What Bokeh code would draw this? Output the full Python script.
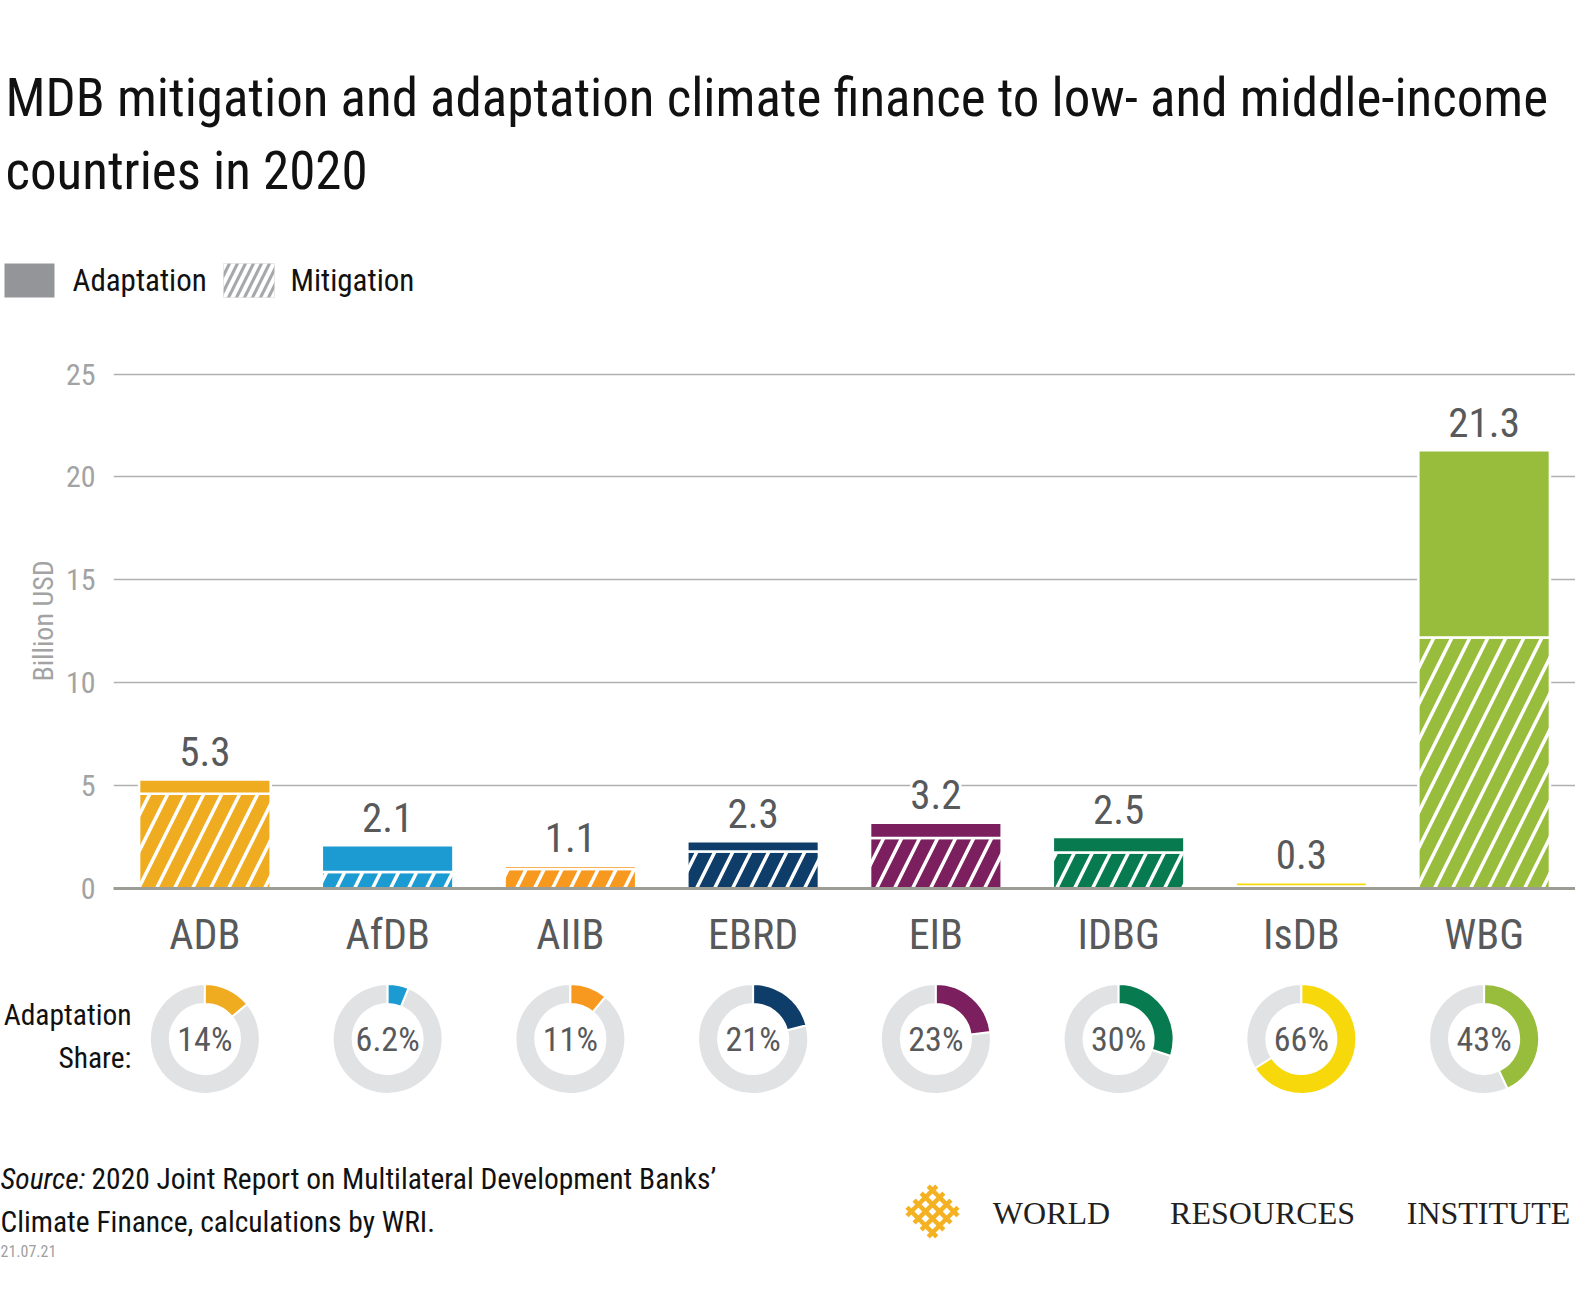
import math
from bokeh.plotting import figure
from bokeh.models import ColumnDataSource, Range1d, FactorRange, FixedTicker
from bokeh.transform import dodge
from bokeh.embed import file_html
from bokeh.resources import INLINE
from bokeh.core.properties import value

# ---------------- data ----------------
banks = ["ADB", "AfDB", "AIIB", "EBRD", "EIB", "IDBG", "IsDB", "WBG"]
mitigation = [4.6, 0.8, 0.95, 1.8, 2.45, 1.75, 0.1, 12.2]
adaptation = [0.7, 1.3, 0.15, 0.5, 0.75, 0.75, 0.2, 9.1]
total_labels = ["5.3", "2.1", "1.1", "2.3", "3.2", "2.5", "0.3", "21.3"]
share_values = [14, 6.2, 11, 21, 23, 30, 66, 43]
share_labels = ["14%", "6.2%", "11%", "21%", "23%", "30%", "66%", "43%"]
bank_colors = ["#f0ac21", "#1b9bd1", "#f7991f", "#0d3d68", "#7b1f5f", "#077b4f", "#f7d90b", "#98bd3d"]
y_ticks = [0, 5, 10, 15, 20, 25]

FONT = "Roboto Condensed, Liberation Sans Narrow, Arial Narrow, Roboto"
GREY_TXT = "#58595b"
W = 1575
LEFT = 113

# ---------------- header ----------------
H1 = 353
hdr = figure(width=W, height=H1, x_range=Range1d(0, W), y_range=Range1d(H1, 0),
             output_backend="svg", toolbar_location=None, x_axis_type=None, y_axis_type=None,
             min_border=0)
hdr.grid.grid_line_color = None
hdr.outline_line_color = None
hdr.text(x=[5, 5], y=[97, 170],
         text=["MDB mitigation and adaptation climate finance to low- and middle-income",
               "countries in 2020"],
         text_font=value(FONT), text_font_size="53px", text_color="#111111",
         text_baseline="middle")
hdr.quad(left=[4], right=[54], top=[263], bottom=[297], fill_color="#939598", line_color=None)
hdr.quad(left=[223], right=[274], top=[263], bottom=[297], fill_color="#a6a8ab", line_color=None,
         hatch_pattern="/", hatch_color="white", hatch_weight=4, hatch_scale=16)
hdr.text(x=[72, 290], y=[280, 280], text=["Adaptation", "Mitigation"],
         text_font=value(FONT), text_font_size="31px", text_color="#111111",
         text_baseline="middle")

# ---------------- main bar chart ----------------
totals = [m + a for m, a in zip(mitigation, adaptation)]
src = ColumnDataSource(dict(bank=banks, mitigation=mitigation, adaptation=adaptation,
                            total=totals, label=total_labels, color=bank_colors))

p = figure(width=W, height=625, x_range=FactorRange(*banks), y_range=Range1d(0, 26),
           output_backend="svg", toolbar_location=None,
           min_border_left=LEFT, min_border_right=0, min_border_top=0, min_border_bottom=90)
p.outline_line_color = None
# labels first (white background hides gridlines), bars drawn over them
p.text(x="bank", y=dodge("total", 1.36), text="label", source=src, text_align="center",
       text_baseline="middle", text_font=value(FONT),
       text_font_size="41px", text_color=GREY_TXT, background_fill_color="white")
p.vbar_stack(["mitigation", "adaptation"], x="bank", width=0.72, source=src,
             fill_color="color", line_color="white", line_width=2.5,
             hatch_pattern=["/", " "], hatch_color="white", hatch_weight=3.5, hatch_scale=36)

p.yaxis.ticker = FixedTicker(ticks=y_ticks)
p.ygrid.ticker = FixedTicker(ticks=y_ticks)
p.ygrid.grid_line_color = "#b0b0b0"
p.ygrid.grid_line_width = 1.3
p.xgrid.grid_line_color = None
p.yaxis.axis_line_color = None
p.yaxis.major_tick_line_color = None
p.yaxis.major_tick_out = 0
p.yaxis.minor_tick_line_color = None
p.yaxis.major_label_text_font = FONT
p.yaxis.major_label_text_font_size = "30px"
p.yaxis.major_label_text_color = "#a3a3a3"
p.yaxis.major_label_standoff = 18
p.yaxis.axis_label = "Billion USD"
p.yaxis.axis_label_text_font = FONT
p.yaxis.axis_label_text_font_size = "28px"
p.yaxis.axis_label_text_font_style = "normal"
p.yaxis.axis_label_text_color = "#a3a3a3"
p.yaxis.axis_label_standoff = 3

p.xaxis.axis_line_color = "#9d9d96"
p.xaxis.axis_line_width = 3
p.xaxis.major_tick_line_color = None
p.xaxis.major_tick_out = 0
p.xaxis.major_label_text_font = FONT
p.xaxis.major_label_text_font_size = "42px"
p.xaxis.major_label_text_color = GREY_TXT
p.xaxis.major_label_standoff = 21

# ---------------- donuts ----------------
H3 = 150
DY = 89.5
unit = (W - LEFT) / len(banks)
pos = [i + 0.5 for i in range(len(banks))]
start_c, end_c, start_g, end_g = [], [], [], []
for s in share_values:
    a = 2 * math.pi * s / 100.0
    start_c.append(math.pi / 2 - a)
    end_c.append(math.pi / 2)
    start_g.append(math.pi / 2)
    end_g.append(math.pi / 2 - a + 2 * math.pi)
dsrc = ColumnDataSource(dict(x=pos, sc=start_c, ec=end_c, sg=start_g, eg=end_g,
                             color=bank_colors, lab=share_labels))
d = figure(width=W, height=H3, x_range=Range1d(-LEFT / unit, len(banks)), y_range=Range1d(0, H3),
           output_backend="svg", toolbar_location=None, x_axis_type=None, y_axis_type=None,
           min_border=0)
d.grid.grid_line_color = None
d.outline_line_color = None
d.annular_wedge(x="x", y=DY, inner_radius=35, outer_radius=55,
                inner_radius_units="screen", outer_radius_units="screen",
                start_angle="sg", end_angle="eg", fill_color="#e1e2e4",
                line_color="white", line_width=2, source=dsrc)
d.annular_wedge(x="x", y=DY, inner_radius=35, outer_radius=55,
                inner_radius_units="screen", outer_radius_units="screen",
                start_angle="sc", end_angle="ec", fill_color="color",
                line_color="white", line_width=2, source=dsrc)
d.text(x="x", y=DY, text="lab", source=dsrc, text_align="center", text_baseline="middle",
       text_font=value(FONT), text_font_size="34px", text_color=GREY_TXT)
lab_x = (131 - LEFT) / unit
d.text(x=[lab_x, lab_x], y=[113.5, 71], text=["Adaptation", "Share:"], text_align="right",
       text_baseline="middle", text_font=value(FONT), text_font_size="29.5px",
       text_color="#111111")

# ---------------- footer ----------------
H4 = 156
ft = figure(width=W, height=H4, x_range=Range1d(0, W), y_range=Range1d(H4, 0),
            output_backend="svg", toolbar_location=None, x_axis_type=None, y_axis_type=None,
            min_border=0)
ft.grid.grid_line_color = None
ft.outline_line_color = None
ft.text(x=[0], y=[50], text=["Source:"], text_font=value(FONT), text_font_style="italic",
        text_font_size="29.5px", text_color="#111111", text_baseline="middle")
ft.text(x=[91, 0], y=[50, 93],
        text=["2020 Joint Report on Multilateral Development Banks\u2019",
              "Climate Finance, calculations by WRI."],
        text_font=value(FONT), text_font_size="29.5px", text_color="#111111",
        text_baseline="middle")
ft.text(x=[0], y=[122.5], text=["21.07.21"], text_font=value(FONT), text_font_size="16px",
        text_color="#a0a0a0", text_baseline="middle")

# logo (woven diamond)
cx, cy = 932, 83
xs, ys = [], []
r2 = math.sqrt(2)
for c in (-15, -5, 5, 15):
    for (u0, v0, u1, v1) in ((c, -21, c, 21), (-21, c, 21, c)):
        xs.append([cx + (u0 - v0) / r2, cx + (u1 - v1) / r2])
        ys.append([cy + (u0 + v0) / r2, cy + (u1 + v1) / r2])
ft.multi_line(xs=xs, ys=ys, line_color="#f4b223", line_width=4.5)
ft.text(x=[1051, 1262, 1488], y=[84, 84, 84], text=["WORLD", "RESOURCES", "INSTITUTE"],
        text_font=value("Liberation Serif"), text_font_size="32px", text_color="#231f20",
        text_baseline="middle", text_align="center")

open("out.html", "w").write(file_html([hdr, p, d, ft], INLINE))
